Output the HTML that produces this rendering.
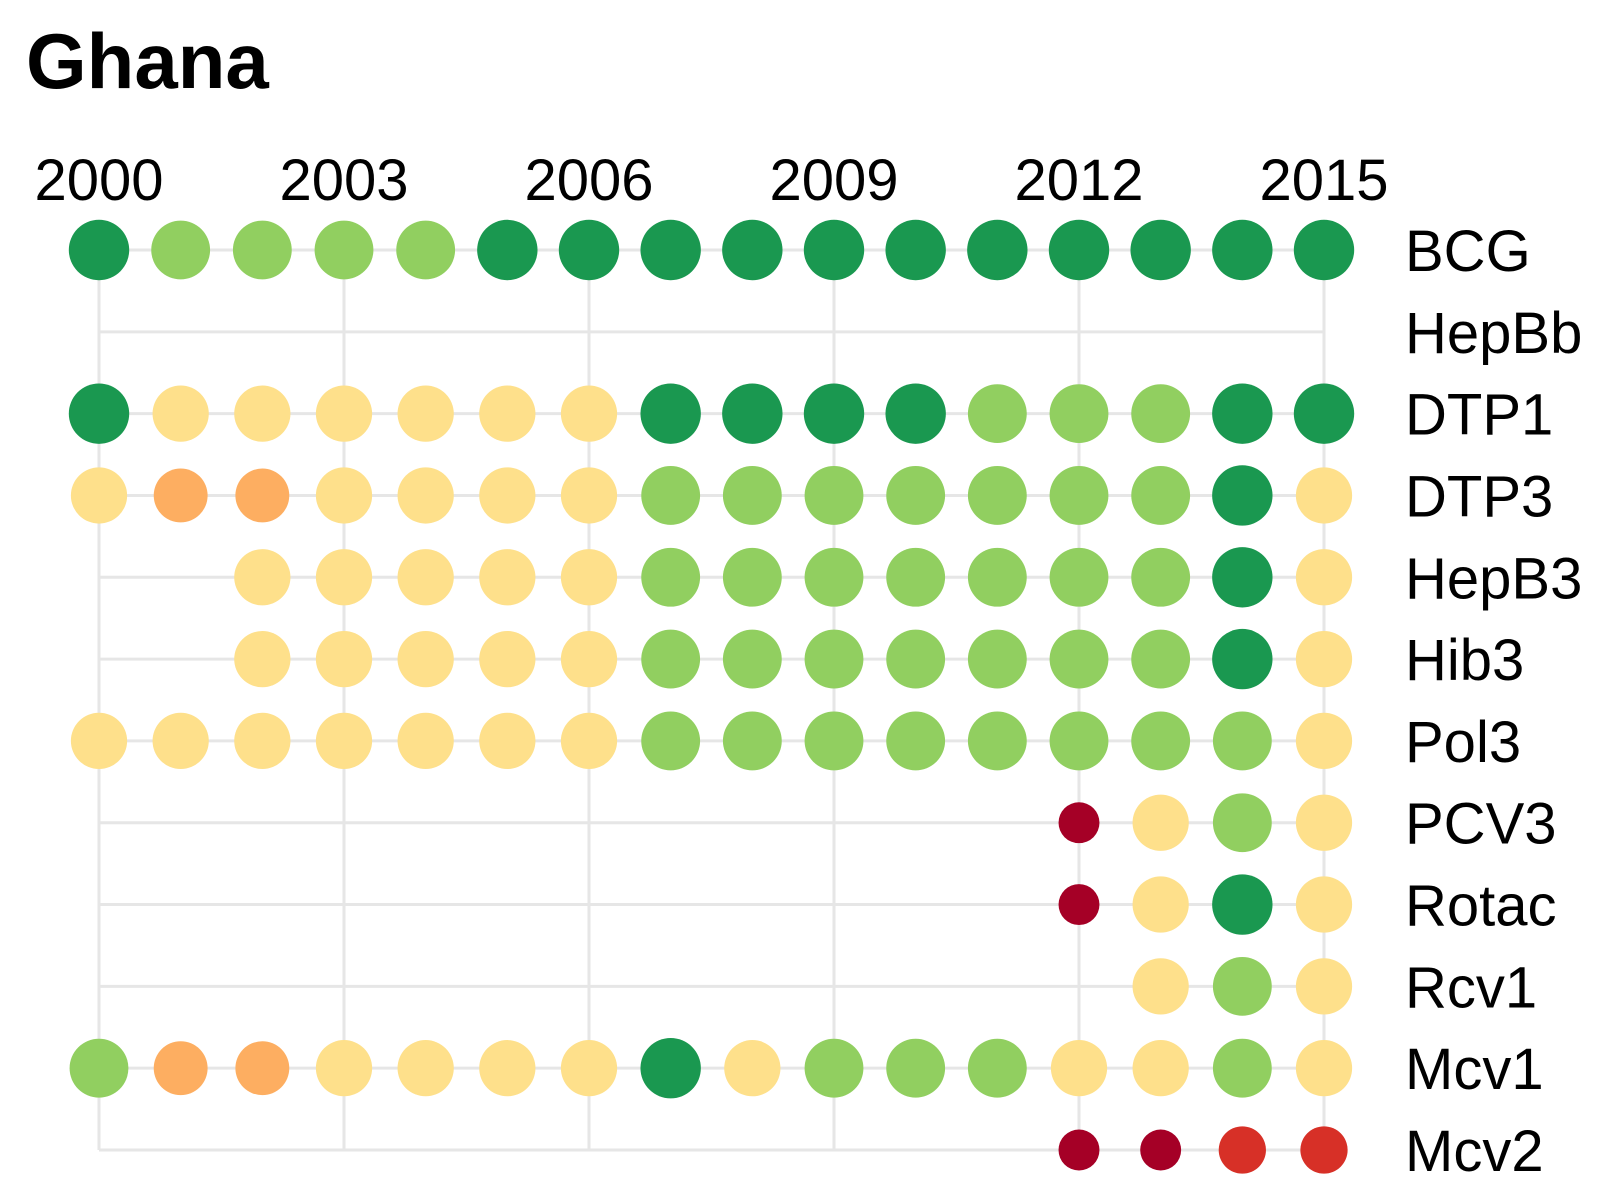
<!DOCTYPE html>
<html><head><meta charset="utf-8"><style>
html,body{margin:0;padding:0;background:#fff;}
svg{display:block;font-family:"Liberation Sans",Arial,sans-serif;}
</style></head><body>
<svg id="chart" width="1612" height="1200" viewBox="0 0 1612 1200">
<text x="26" y="88" font-size="78" font-weight="bold" fill="#000">Ghana</text>
<g id="grid"></g>
<g id="xaxis"></g>
<g id="yaxis"></g>
<g id="dots"></g>
</svg>
<script>
const years = [2000,2001,2002,2003,2004,2005,2006,2007,2008,2009,2010,2011,2012,2013,2014,2015];
const tickYears = [2000,2003,2006,2009,2012,2015];
const vaccines = ["BCG","HepBb","DTP1","DTP3","HepB3","Hib3","Pol3","PCV3","Rotac","Rcv1","Mcv1","Mcv2"];
const N = null;
const BCG   = [98,93,93,93,93,98,98,98,98,98,98,98,98,98,98,98];
const HepBb = [N,N,N,N,N,N,N,N,N,N,N,N,N,N,N,N];
const DTP1  = [98,85,85,85,85,85,85,98,98,98,98,93,93,93,98,98];
const DTP3  = [85,78,78,85,85,85,85,93,93,93,93,93,93,93,98,85];
const HepB3 = [N,N,85,85,85,85,85,93,93,93,93,93,93,93,98,85];
const Hib3  = [N,N,85,85,85,85,85,93,93,93,93,93,93,93,98,85];
const Pol3  = [85,85,85,85,85,85,85,93,93,93,93,93,93,93,93,85];
const PCV3  = [N,N,N,N,N,N,N,N,N,N,N,N,45,85,93,85];
const Rotac = [N,N,N,N,N,N,N,N,N,N,N,N,45,85,98,85];
const Rcv1  = [N,N,N,N,N,N,N,N,N,N,N,N,N,85,93,85];
const Mcv1  = [93,78,78,85,85,85,85,98,85,93,93,93,85,85,93,85];
const Mcv2  = [N,N,N,N,N,N,N,N,N,N,N,N,45,45,60,60];
const series = [BCG,HepBb,DTP1,DTP3,HepB3,Hib3,Pol3,PCV3,Rotac,Rcv1,Mcv1,Mcv2];

const NS="http://www.w3.org/2000/svg";
const x = yr => 99 + (yr-2000)*(1324-99)/15;
const y = i => 250 + i*(1150-250)/11;
const r = v => 3.05*Math.sqrt(v);
function color(v){
  if(v>=95) return "#1a9850";
  if(v>=90) return "#91cf60";
  if(v>=80) return "#fee08b";
  if(v>=70) return "#fdae61";
  if(v>=50) return "#d73027";
  return "#a50026";
}
function mk(tag,attrs,parent){const e=document.createElementNS(NS,tag);for(const k in attrs)e.setAttribute(k,attrs[k]);parent.appendChild(e);return e;}
const grid=document.getElementById('grid'), xa=document.getElementById('xaxis'), ya=document.getElementById('yaxis'), dots=document.getElementById('dots');
tickYears.forEach(t=>{
  const l=mk('line',{x1:x(t),x2:x(t),y1:y(0),y2:y(vaccines.length-1),stroke:'#e6e6e6','stroke-width':3},grid);
  
  
  const tx=mk('text',{x:x(t),y:200,'font-size':58,'text-anchor':'middle',fill:'#000'},xa);
  tx.textContent=t;
  
  
});
vaccines.forEach((v,i)=>{
  const l=mk('line',{x1:x(2000),x2:x(2015),y1:y(i),y2:y(i),stroke:'#e6e6e6','stroke-width':3},grid);
  
  
  const tx=mk('text',{x:1405,y:y(i)+21,'font-size':58,fill:'#000'},ya);
  tx.textContent=v;
  
  
  series[i].forEach((val,j)=>{
    if(val==null) return;
    const c=mk('circle',{cx:x(years[j]),cy:y(i),r:r(val),fill:color(val)},dots);
    
    
  });
});
</script>
</body></html>
